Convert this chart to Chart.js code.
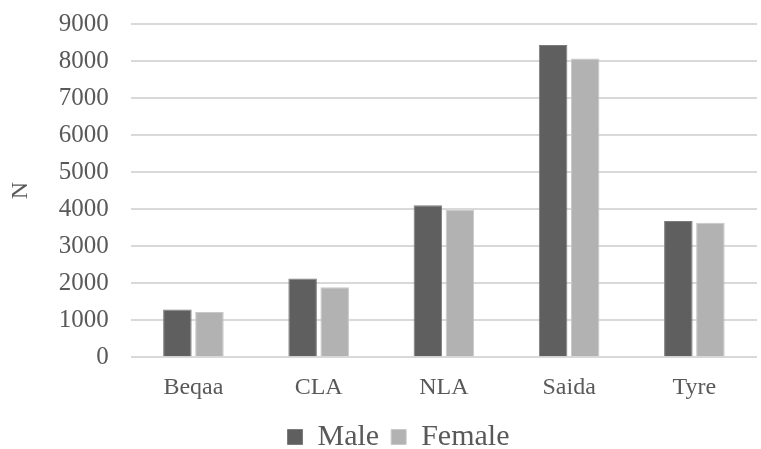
<!DOCTYPE html>
<html>
<head>
<meta charset="utf-8">
<script src="https://cdn.jsdelivr.net/npm/chart.js@4/dist/chart.umd.min.js"></script>
<style>
  html, body { margin: 0; padding: 0; background: #ffffff; }
  #wrap { width: 761px; height: 449px; position: relative; }
</style>
</head>
<body>
<div id="wrap"><canvas id="grafico"></canvas></div>
<script>
// Dados por região
const regioes = ['Beqaa', 'CLA', 'NLA', 'Saida', 'Tyre'];
const masculino = [1290, 2125, 4105, 8430, 3680];
const feminino = [1220, 1890, 3980, 8070, 3630];
const ticksY = [0, 1000, 2000, 3000, 4000, 5000, 6000, 7000, 8000, 9000];

const fonte = "'Liberation Serif', 'Times New Roman', serif";
const corTexto = '#595959';

// Desloca a legenda um pouco para a direita depois do layout
const deslocaLegenda = {
  id: 'deslocaLegenda',
  afterLayout(chart) {
    const leg = chart.legend;
    if (!leg) return;
    leg.left += 17;
    leg.right += 17;
  }
};

const ctx = document.getElementById('grafico');

new Chart(ctx, {
  type: 'bar',
  data: {
    labels: regioes,
    datasets: [
      {
        label: 'Male',
        data: masculino,
        backgroundColor: '#5f5f5f',
        borderColor: '#7c7c7c',
        borderWidth: 1
      },
      {
        label: 'Female',
        data: feminino,
        backgroundColor: '#b2b2b2',
        borderColor: '#c8c8c8',
        borderWidth: 1
      }
    ]
  },
  options: {
    responsive: true,
    maintainAspectRatio: false,
    animation: false,
    devicePixelRatio: 1,
    categoryPercentage: 0.512,
    barPercentage: 0.89,
    layout: { padding: { top: 24, right: 4, bottom: -13, left: 6 } },
    plugins: {
      tooltip: { enabled: false },
      legend: {
        position: 'bottom',
        labels: {
          color: corTexto,
          font: { family: fonte, size: 30 },
          boxWidth: 15,
          boxHeight: 15,
          padding: 12
        }
      }
    },
    scales: {
      x: {
        grid: { display: false },
        border: { display: false },
        ticks: {
          color: corTexto,
          font: { family: fonte, size: 24 },
          padding: 8
        }
      },
      y: {
        min: 0,
        max: 9000,
        afterBuildTicks: (eixo) => {
          eixo.ticks = ticksY.map(v => ({ value: v }));
        },
        // o rótulo do topo pode ultrapassar a área do gráfico
        afterFit: (eixo) => {
          eixo.paddingTop = 0;
        },
        grid: { color: '#d9d9d9', lineWidth: 2, drawTicks: false },
        border: { display: false },
        ticks: {
          color: corTexto,
          font: { family: fonte, size: 25 },
          padding: 22,
          autoSkip: false,
          callback: (v) => String(v)
        },
        title: {
          display: true,
          text: 'N',
          color: corTexto,
          font: { family: fonte, size: 24 },
          padding: { top: 0, bottom: 2 }
        }
      }
    }
  },
  plugins: [deslocaLegenda]
});
</script>
</body>
</html>
